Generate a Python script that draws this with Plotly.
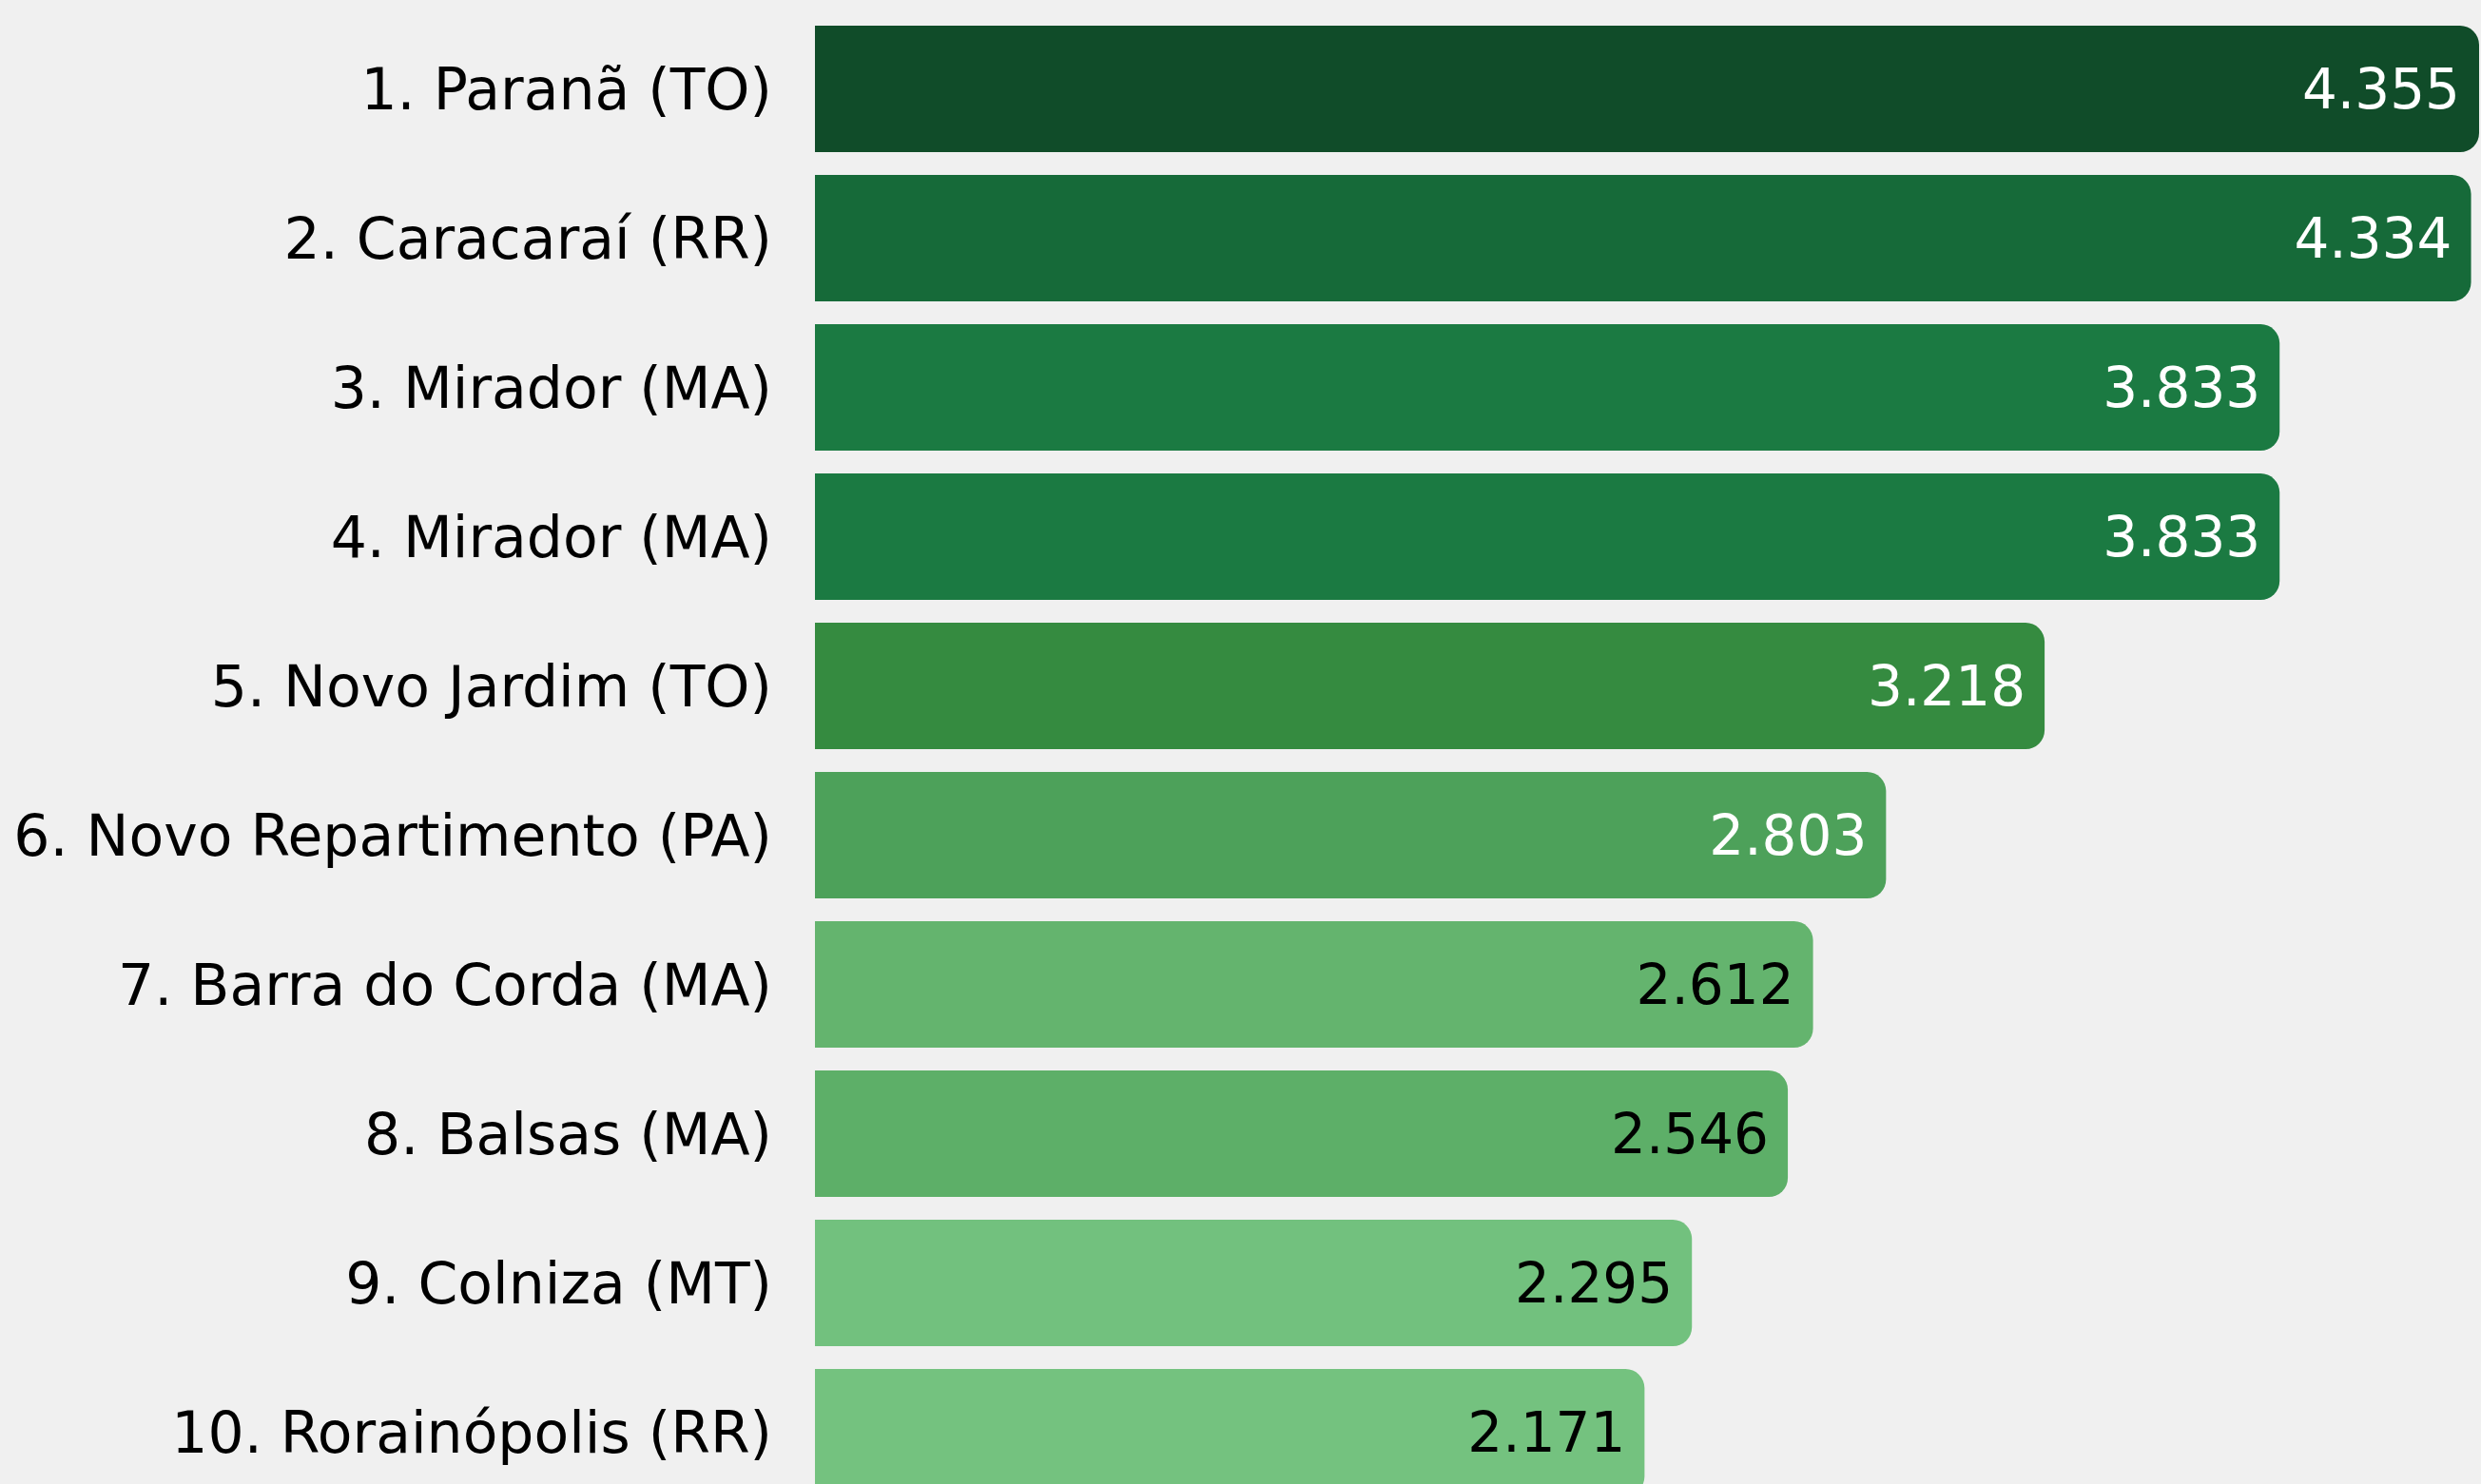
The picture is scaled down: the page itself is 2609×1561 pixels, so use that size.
import plotly.graph_objects as go

# Ranking data (values shown with Brazilian thousands separator)
municipios = [
    "1. Paranã (TO)",
    "2. Caracaraí (RR)",
    "3. Mirador (MA)",
    "4. Mirador (MA)",
    "5. Novo Jardim (TO)",
    "6. Novo Repartimento (PA)",
    "7. Barra do Corda (MA)",
    "8. Balsas (MA)",
    "9. Colniza (MT)",
    "10. Rorainópolis (RR)",
]
valores = [4355, 4334, 3833, 3833, 3218, 2803, 2612, 2546, 2295, 2171]
cores = ["#104c29", "#166a39", "#1b7a42", "#1b7a42", "#358b40",
         "#4da15a", "#64b46e", "#5daf68", "#72c17e", "#74c27f"]
cores_texto = ["white"] * 6 + ["black"] * 4

fonte = "DejaVu Sans"

fig = go.Figure()
fig.add_trace(go.Bar(
    x=valores,
    y=municipios,
    orientation="h",
    marker=dict(color=cores, cornerradius=20, line=dict(width=0)),
    texttemplate="%{x:,}\u2009",
    textposition="inside",
    insidetextanchor="end",
    textangle=0,
    insidetextfont=dict(family=fonte, size=58, color=cores_texto),
    hoverinfo="skip",
))

fig.update_layout(
    width=2609,
    height=1561,
    margin=dict(l=857, r=0, t=0, b=0),
    paper_bgcolor="#f0f0f0",
    plot_bgcolor="#f0f0f0",
    separators=",.",
    bargap=0.153,
    showlegend=False,
    font=dict(family=fonte, color="black"),
    xaxis=dict(
        range=[0, 4360],
        visible=False,
        showgrid=False,
        zeroline=False,
    ),
    yaxis=dict(
        type="category",
        range=[9.347, -0.596],
        showgrid=False,
        zeroline=False,
        showline=False,
        ticks="outside",
        ticklen=32,
        tickcolor="rgba(0,0,0,0)",
        tickfont=dict(family=fonte, size=60, color="black"),
    ),
)

# remove the default page margin so the chart fills the window
fig.write_html(
    "out.html",
    config={"displayModeBar": False},
    post_script="document.body.style.margin='0';",
)
